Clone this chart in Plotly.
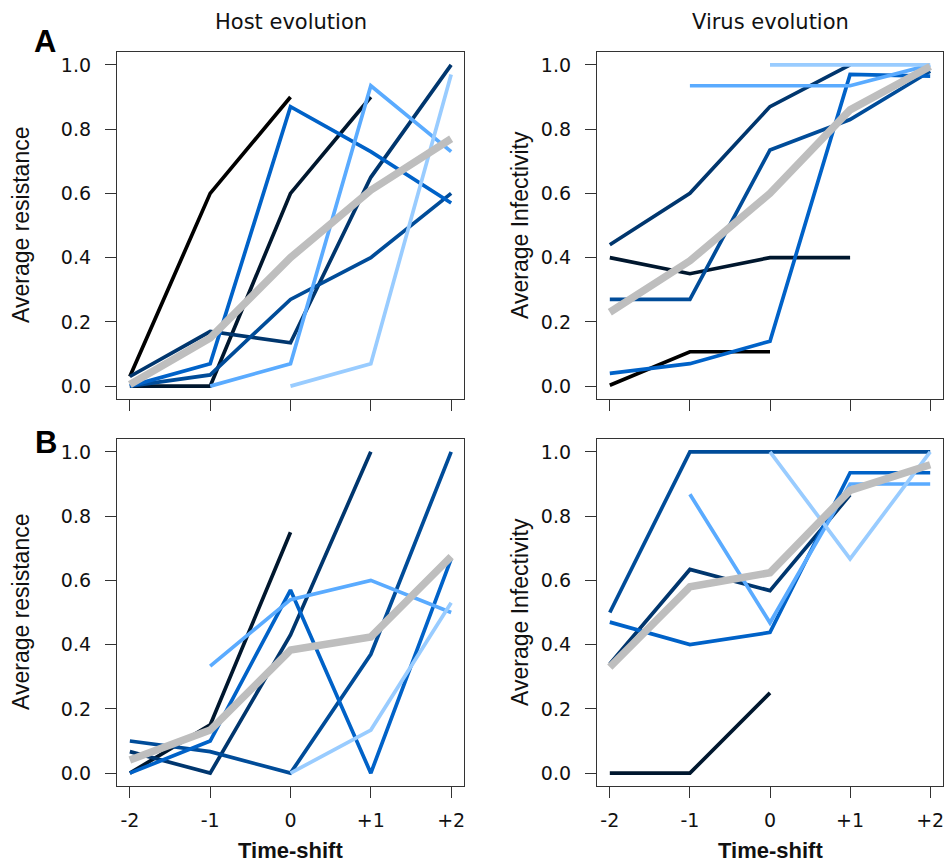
import plotly.graph_objects as go

W, H = 945, 863

# ---------------- data ----------------
TIME_SHIFTS = [-2, -1, 0, 1, 2]
TICK_TEXT = ["-2", "-1", "0", "+1", "+2"]
Y_TICKS = [0.0, 0.2, 0.4, 0.6, 0.8, 1.0]

# Panel A, host evolution (average resistance)
A_host_black = [0.03, 0.60, 0.90, None, None]
A_host_navy = [0.0, 0.0, 0.60, 0.90, None]
A_host_dark = [0.03, 0.17, 0.135, 0.65, 1.0]
A_host_mid = [0.0, 0.035, 0.27, 0.40, 0.60]
A_host_blue = [0.0, 0.07, 0.87, 0.73, 0.57]
A_host_light = [None, 0.0, 0.07, 0.935, 0.73]
A_host_pale = [None, None, 0.0, 0.07, 0.97]
A_host_mean = [0.005, 0.15, 0.40, 0.61, 0.77]

# Panel A, virus evolution (average infectivity)
A_vir_black = [0.003, 0.107, 0.107, None, None]
A_vir_navy = [0.40, 0.35, 0.40, 0.40, None]
A_vir_dark = [0.44, 0.60, 0.87, 1.0, None]
A_vir_mid = [0.27, 0.27, 0.735, 0.83, 0.98]
A_vir_blue = [0.04, 0.07, 0.14, 0.97, 0.965]
A_vir_light = [None, 0.935, 0.935, 0.935, 1.0]
A_vir_pale = [None, None, 1.0, 1.0, 1.0]
A_vir_mean = [0.23, 0.39, 0.60, 0.86, 0.995]

# Panel B, host evolution (average resistance)
B_host_navy = [0.0, 0.15, 0.75, None, None]
B_host_dark = [0.067, 0.0, 0.43, 1.0, None]
B_host_mid = [0.10, 0.067, 0.0, 0.37, 1.0]
B_host_blue = [0.0, 0.10, 0.57, 0.0, 0.667]
B_host_light = [None, 0.333, 0.54, 0.60, 0.50]
B_host_pale = [None, None, 0.0, 0.134, 0.53]
B_host_mean = [0.041, 0.134, 0.383, 0.424, 0.674]

# Panel B, virus evolution (average infectivity)
B_vir_navy = [0.0, 0.0, 0.25, None, None]
B_vir_dark = [0.34, 0.634, 0.568, 0.866, None]
B_vir_mid = [0.50, 1.0, 1.0, 1.0, 1.0]
B_vir_blue = [0.47, 0.40, 0.438, 0.935, 0.935]
B_vir_light = [None, 0.868, 0.468, 0.90, 0.90]
B_vir_pale = [None, None, 1.0, 0.667, 1.0]
B_vir_mean = [0.33, 0.58, 0.624, 0.88, 0.96]

# ---------------- styles ----------------
COL = {
    "black": "#000000",
    "navy": "#00172e",
    "dark": "#00366e",
    "mid": "#004c99",
    "blue": "#0062c8",
    "light": "#5aabff",
    "pale": "#99ccff",
    "mean": "#bebebe",
}

panels = [
    ("x", "y", [("black", A_host_black), ("navy", A_host_navy), ("dark", A_host_dark),
                ("mid", A_host_mid), ("blue", A_host_blue), ("light", A_host_light),
                ("pale", A_host_pale), ("mean", A_host_mean)]),
    ("x2", "y2", [("black", A_vir_black), ("navy", A_vir_navy), ("dark", A_vir_dark),
                  ("mid", A_vir_mid), ("blue", A_vir_blue), ("light", A_vir_light),
                  ("pale", A_vir_pale), ("mean", A_vir_mean)]),
    ("x3", "y3", [("navy", B_host_navy), ("dark", B_host_dark), ("mid", B_host_mid),
                  ("blue", B_host_blue), ("light", B_host_light), ("pale", B_host_pale),
                  ("mean", B_host_mean)]),
    ("x4", "y4", [("navy", B_vir_navy), ("dark", B_vir_dark), ("mid", B_vir_mid),
                  ("blue", B_vir_blue), ("light", B_vir_light), ("pale", B_vir_pale),
                  ("mean", B_vir_mean)]),
]

fig = go.Figure()
for xa, ya, series in panels:
    for key, vals in series:
        fig.add_trace(go.Scatter(
            x=TIME_SHIFTS, y=vals, xaxis=xa, yaxis=ya, mode="lines",
            connectgaps=False, showlegend=False, hoverinfo="skip",
            line=dict(color=COL[key], width=7.5 if key == "mean" else 3.7),
        ))

def px_x(p):
    return p / W

def px_y(p):
    return (H - p) / H

XL = [px_x(117), px_x(464)]
XR = [px_x(597), px_x(943)]
YA = [px_y(399), px_y(52)]
YB = [px_y(786), px_y(439)]

TICK_FONT = dict(family="DejaVu Sans", size=19, color="#111")

def xaxis(domain, anchor, labels):
    return dict(domain=domain, anchor=anchor, range=[-2.16, 2.16],
                tickmode="array", tickvals=TIME_SHIFTS, ticktext=TICK_TEXT,
                showticklabels=labels, ticks="outside", ticklen=11, tickwidth=1.3,
                tickcolor="#333", showline=True, mirror=True, linecolor="#333",
                linewidth=1.3, showgrid=False, zeroline=False, tickfont=TICK_FONT,
                ticklabelstandoff=6)

def yaxis(domain, anchor):
    return dict(domain=domain, anchor=anchor, range=[-0.04, 1.04],
                tickmode="array", tickvals=Y_TICKS,
                ticktext=[f"{v:.1f}" for v in Y_TICKS],
                ticks="outside", ticklen=11, tickwidth=1.3, tickcolor="#333",
                showline=True, mirror=True, linecolor="#333", linewidth=1.3,
                showgrid=False, zeroline=False, tickfont=TICK_FONT,
                ticklabelstandoff=10)

fig.update_layout(
    width=W, height=H, margin=dict(l=0, r=0, t=0, b=0),
    paper_bgcolor="white", plot_bgcolor="white",
    xaxis=xaxis(XL, "y", False), yaxis=yaxis(YA, "x"),
    xaxis2=xaxis(XR, "y2", False), yaxis2=yaxis(YA, "x2"),
    xaxis3=xaxis(XL, "y3", True), yaxis3=yaxis(YB, "x3"),
    xaxis4=xaxis(XR, "y4", True), yaxis4=yaxis(YB, "x4"),
)

TITLE_FONT = dict(family="DejaVu Sans", size=21, color="#111")
LAB_FONT = dict(family="Liberation Sans", size=23, color="#111")
XT_FONT = dict(family="Liberation Sans", size=22, color="#111")
LET_FONT = dict(family="Liberation Sans", size=31, color="#000")

ann = []
ann.append(dict(text="Host evolution", x=(XL[0] + XL[1]) / 2, y=px_y(22), font=TITLE_FONT))
ann.append(dict(text="Virus evolution", x=(XR[0] + XR[1]) / 2, y=px_y(22), font=TITLE_FONT))
ann.append(dict(text="<b>A</b>", x=px_x(45), y=px_y(41), font=LET_FONT))
ann.append(dict(text="<b>B</b>", x=px_x(46), y=px_y(442), font=LET_FONT))
for yc in [px_y(225), px_y(612)]:
    ann.append(dict(text="Average resistance", x=px_x(21), y=yc, textangle=-90, font=LAB_FONT))
    ann.append(dict(text="Average Infectivity", x=px_x(520), y=yc, textangle=-90, font=LAB_FONT))
ann.append(dict(text="<b>Time-shift</b>", x=(XL[0] + XL[1]) / 2, y=px_y(850), font=XT_FONT))
ann.append(dict(text="<b>Time-shift</b>", x=(XR[0] + XR[1]) / 2, y=px_y(850), font=XT_FONT))
for a in ann:
    a.update(xref="paper", yref="paper", showarrow=False, xanchor="center", yanchor="middle")
fig.update_layout(annotations=ann)

fig.write_html(
    "out.html",
    config={"displayModeBar": False},
    post_script="document.body.style.margin='0';document.body.style.overflow='hidden';",
)
